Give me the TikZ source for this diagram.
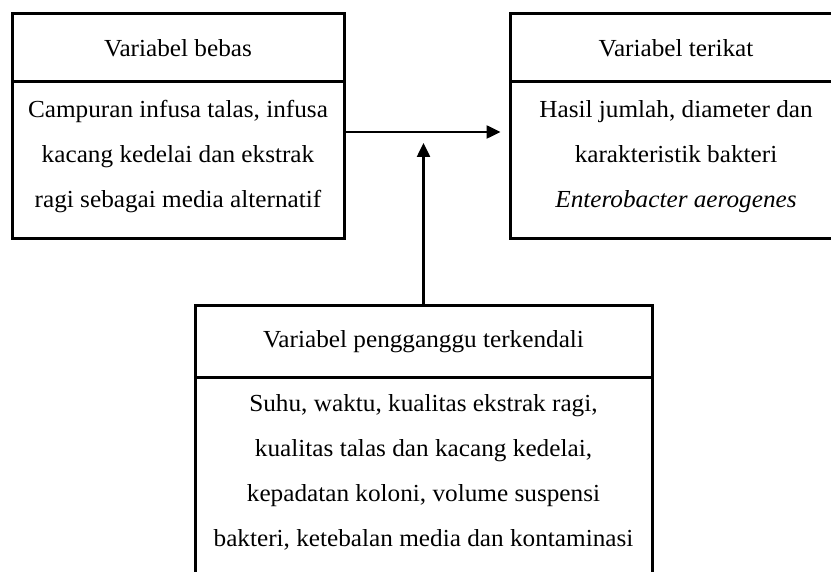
\documentclass[tikz,border=0pt]{standalone}
\usepackage{fontspec}
\setmainfont{Liberation Serif}[FakeStretch=1.03]
\usetikzlibrary{arrows.meta}

\begin{document}
\begin{tikzpicture}[x = 1pt, y = -1pt,
  box/.style = {draw = black, line width = 3pt, inner sep = 0pt, align = center,
    font = \fontsize{24.5}{45}\selectfont},
  link/.style = {draw, line width = 2.5pt, -{Triangle[length = 14pt, width = 13pt]}}]
\useasboundingbox (0, 0) rectangle (831, 572);

% variabel bebas
\node [box, minimum width = 332pt, minimum height = 68pt] (bebasHead) at (178, 48) {Variabel bebas};
\node [box, minimum width = 332pt, minimum height = 157pt] (bebasBody) at (178, 160.5)
  {Campuran infusa talas, infusa\\kacang kedelai dan ekstrak\\ragi sebagai media alternatif\rule[-13pt]{0pt}{0pt}};

% variabel terikat
\node [box, minimum width = 332pt, minimum height = 68pt] (terikatHead) at (676, 48) {Variabel terikat};
\node [box, minimum width = 332pt, minimum height = 157pt] (terikatBody) at (676, 160.5)
  {Hasil jumlah, diameter dan\\karakteristik bakteri\\\textit{Enterobacter aerogenes}\rule[-13pt]{0pt}{0pt}};

% variabel pengganggu
\node [box, minimum width = 457pt, minimum height = 72pt] (ganggu) at (423.5, 342) {Variabel pengganggu terkendali};
\node [box, minimum width = 457pt, minimum height = 200pt] (gangguBody) at (423.5, 478)
  {Suhu, waktu, kualitas ekstrak ragi,\\kualitas talas dan kacang kedelai,\\kepadatan koloni, volume suspensi\\bakteri, ketebalan media dan kontaminasi\rule[-15pt]{0pt}{0pt}};

\coordinate (meet) at (423.5, 143);
\path [link, shorten > = 8pt] (bebasBody.east |- 0, 132) -- (terikatBody.west |- 0, 132);
\path [link] (ganggu.north) -- (meet);
\end{tikzpicture}
\end{document}
